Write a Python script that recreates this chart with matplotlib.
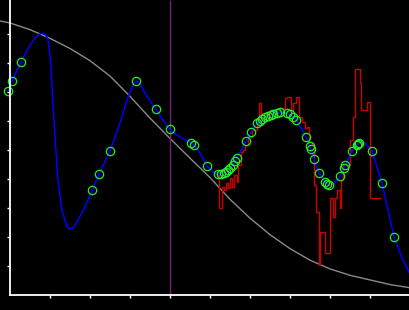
import matplotlib
matplotlib.use("Agg")
import matplotlib.pyplot as plt

# gray envelope curve
env_x = [-0.25, 0.0, 0.5, 1.0, 1.5, 2.0, 2.5, 3.0, 3.5, 4.0, 4.5, 5.0,
         5.5, 6.0, 6.5, 7.0, 7.5, 8.0, 8.5, 9.0, 9.5, 10.0]
env_y = [9.45, 9.38, 9.15, 8.85, 8.5, 8.08, 7.55, 6.85, 6.1, 5.4, 4.72, 4.05,
         3.3, 2.65, 2.08, 1.6, 1.2, 0.9, 0.68, 0.52, 0.36, 0.25]

# blue fitted curve
fit_x = [-0.05, 0.05, 0.275, 0.5, 0.65, 0.75, 0.825, 0.9, 0.95, 1.0, 1.05, 1.125,
         1.2, 1.3, 1.425, 1.5, 1.575, 1.675, 1.875, 2.05, 2.225, 2.5, 2.75, 2.925,
         3.075, 3.15, 3.25, 3.4, 3.65, 3.825, 4.0, 4.25, 4.525, 4.6, 4.75, 4.925,
         5.075, 5.2, 5.35, 5.45, 5.575, 5.675, 5.9, 6.025, 6.175, 6.3, 6.45, 6.625,
         6.75, 6.925, 7.075, 7.175, 7.4, 7.5, 7.6, 7.725, 7.875, 7.975, 8.075, 8.25,
         8.375, 8.55, 8.7, 8.8, 8.9, 9.05, 9.3, 9.6, 9.8, 10.0]
fit_y = [7.03, 7.38, 8.03, 8.62, 8.90, 9.0, 9.03, 8.97, 8.79, 8.28, 7.17, 5.45,
         3.97, 2.93, 2.34, 2.28, 2.31, 2.52, 3.03, 3.59, 4.17, 4.97, 5.93, 6.72,
         7.24, 7.38, 7.28, 6.90, 6.41, 6.03, 5.69, 5.45, 5.24, 5.17, 4.90, 4.45,
         4.24, 4.17, 4.21, 4.31, 4.48, 4.72, 5.31, 5.62, 5.93, 6.07, 6.17, 6.28,
         6.31, 6.28, 6.14, 6.0, 5.45, 5.14, 4.69, 4.21, 3.90, 3.79, 3.79, 4.10,
         4.45, 4.97, 5.21, 5.28, 5.21, 4.97, 3.86, 2.0, 1.28, 0.72]

# green sample points
pts_x = [-0.05, 0.05, 0.275, 2.05, 2.225, 2.5, 3.15, 3.65, 4.0, 4.525, 4.6, 4.925,
         5.2, 5.275, 5.35, 5.4, 5.45, 5.5, 5.575, 5.625, 5.675, 5.9, 6.025, 6.175,
         6.25, 6.3, 6.375, 6.45, 6.525, 6.575, 6.675, 6.75, 6.925, 7.0, 7.075, 7.15,
         7.4, 7.5, 7.525, 7.6, 7.725, 7.875, 7.925, 7.975, 8.25, 8.35, 8.375, 8.55,
         8.675, 8.7, 8.725, 9.05, 9.3, 9.6]
pts_y = [7.03, 7.38, 8.03, 3.62, 4.17, 4.97, 7.38, 6.41, 5.72, 5.24, 5.17, 4.45,
         4.17, 4.17, 4.21, 4.24, 4.31, 4.38, 4.48, 4.62, 4.72, 5.31, 5.62, 5.93,
         6.0, 6.07, 6.14, 6.17, 6.21, 6.24, 6.28, 6.31, 6.28, 6.24, 6.14, 6.03,
         5.45, 5.14, 5.03, 4.69, 4.21, 3.90, 3.83, 3.79, 4.10, 4.38, 4.48, 4.97,
         5.17, 5.21, 5.24, 4.97, 3.86, 2.0]

# red noisy measurement (step edges and levels)
raw_edges = [5.175, 5.225, 5.3, 5.35, 5.4, 5.45, 5.5, 5.55, 5.6, 5.675, 5.7,
             5.775, 5.825, 5.875, 5.95, 6.05, 6.175, 6.225, 6.275, 6.325, 6.4,
             6.5, 6.625, 6.75, 6.875, 6.925, 7.025, 7.075, 7.15, 7.225, 7.3,
             7.375, 7.425, 7.475, 7.55, 7.6, 7.65, 7.725, 7.75, 7.875, 8.0,
             8.075, 8.125, 8.175, 8.25, 8.275, 8.325, 8.5, 8.575, 8.625, 8.75,
             8.775, 8.925, 9.0, 9.275]
raw_vals = [4.14, 3.0, 3.72, 3.62, 3.86, 3.69, 4.03, 3.72, 4.14, 3.90, 4.48,
            4.93, 5.0, 5.17, 5.45, 5.69, 5.93, 6.62, 6.10, 6.14, 6.31,
            6.38, 6.31, 6.45, 6.79, 6.83, 6.38, 6.62, 6.83, 6.14, 5.97,
            5.76, 5.79, 5.28, 5.17, 3.79, 2.86, 1.03, 2.17, 1.45, 3.34,
            2.69, 3.34, 3.62, 3.0, 3.97, 4.48, 5.34, 6.14, 7.79, 7.31,
            6.38, 6.66, 3.34]

cursor_x = 4.0
ticks = [1, 2, 3, 4, 5, 6, 7, 8, 9]

fig = plt.figure(figsize=(4.1, 3.1), dpi=100, facecolor="black")
ax = fig.add_axes([0, 0, 1, 1], facecolor="black")
ax.set_xlim(-0.25, 10.0)
ax.set_ylim(-0.517, 10.172)

ax.plot(env_x, env_y, color="#8a8a8a", lw=1.0, zorder=2)
ax.vlines(cursor_x, 0, 10.172, color="#7a1f78", lw=1.0, zorder=2)
ax.stairs(raw_vals, raw_edges, color="#cc0000", lw=1.0, baseline=None, zorder=3)
ax.plot(fit_x, fit_y, color="#0000ff", lw=1.1, zorder=4)
ax.plot(pts_x, pts_y, "o", ms=6, mfc="none", mec="#22ee22", mew=0.9, zorder=5)

for s in ["top", "right"]:
    ax.spines[s].set_visible(False)
ax.spines["left"].set_position(("data", 0))
ax.spines["bottom"].set_position(("data", 0))
ax.spines["left"].set_bounds(0, 10.172)
ax.spines["bottom"].set_bounds(0, 10.0)
for s in ["left", "bottom"]:
    ax.spines[s].set_color("white")
    ax.spines[s].set_linewidth(1.3)
    ax.spines[s].set_zorder(6)

ax.set_xticks(ticks)
ax.set_yticks(ticks)
ax.set_xticklabels([])
ax.set_yticklabels([])
ax.tick_params(direction="out", length=2.3, width=1.0, color="white")

fig.savefig("out.png", dpi=100, facecolor="black")
